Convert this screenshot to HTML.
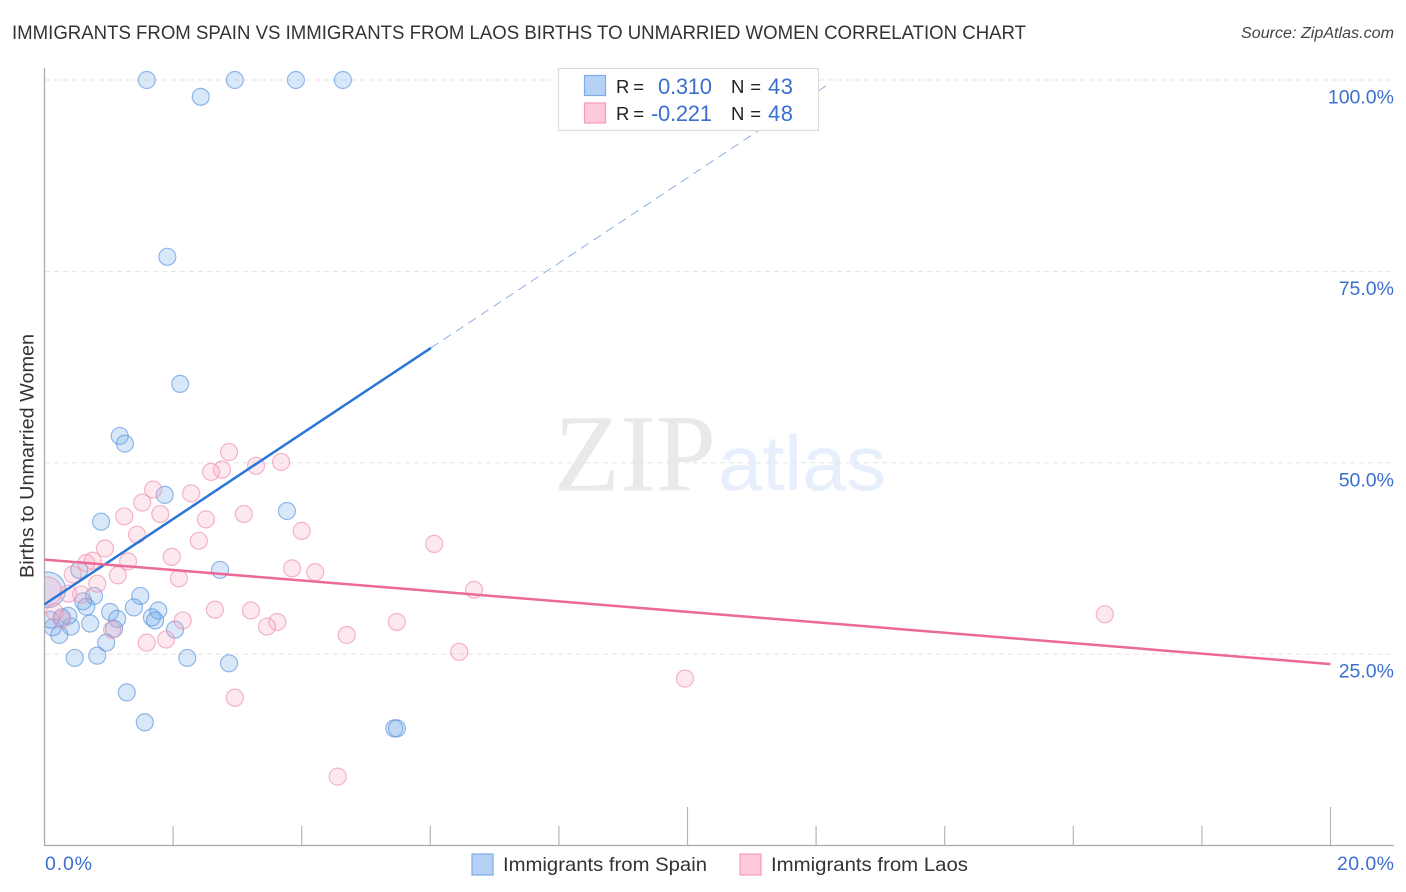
<!DOCTYPE html>
<html lang="en">
<head>
<meta charset="utf-8">
<title>Immigrants from Spain vs Immigrants from Laos Births to Unmarried Women Correlation Chart</title>
<style>
html,body{margin:0;padding:0;background:#fff;}
svg{display:block;font-family:"Liberation Sans",sans-serif;}
</style>
</head>
<body>
<svg id="chart" width="1406" height="892" viewBox="0 0 1406 892" xmlns="http://www.w3.org/2000/svg">
  <defs>
    <clipPath id="plot-clip"><rect x="45" y="60" width="1349" height="786"/></clipPath>
  </defs>
  <rect width="1406" height="892" fill="#fff"/>
  <text x="12" y="39" font-size="19.5" fill="#333" textLength="1014" lengthAdjust="spacingAndGlyphs">IMMIGRANTS FROM SPAIN VS IMMIGRANTS FROM LAOS BIRTHS TO UNMARRIED WOMEN CORRELATION CHART</text>
  <text x="1394" y="38" font-size="15.5" font-style="italic" fill="#444" text-anchor="end" textLength="153" lengthAdjust="spacingAndGlyphs">Source: ZipAtlas.com</text>
  <g>
    <text x="554" y="490.5" font-family="'Liberation Serif',serif" font-size="110" fill="#e9e9e9" textLength="162" lengthAdjust="spacingAndGlyphs">ZIP</text>
    <text x="718" y="490" font-size="78" fill="#e6effb" textLength="168" lengthAdjust="spacingAndGlyphs">atlas</text>
  </g>
  <g id="grid"></g>
  <g id="axes"></g>
  <g id="marks" clip-path="url(#plot-clip)"></g>
  <g id="trends"></g>
  <g>
    <rect x="558.5" y="68.5" width="260" height="62" fill="#fff" fill-opacity="0.88" stroke="#dcdcdc" stroke-width="1.2"/>
    <rect x="584.5" y="75.5" width="21" height="20" fill="#b5d2f6" stroke="#7fabe6" stroke-width="1.2"/>
    <rect x="584.5" y="103" width="21" height="20" fill="#ffc9da" stroke="#f29db8" stroke-width="1.2"/>
    <text x="616" y="93" font-size="18.5" fill="#222" textLength="28">R =</text>
    <text x="712" y="94" font-size="22" fill="#3b70cf" text-anchor="end" textLength="54">0.310</text>
    <text x="731" y="93" font-size="18.5" fill="#222" textLength="30">N =</text>
    <text x="768" y="94" font-size="22" fill="#3b70cf" textLength="25">43</text>
    <text x="616" y="120" font-size="18.5" fill="#222" textLength="28">R =</text>
    <text x="712" y="121" font-size="22" fill="#3b70cf" text-anchor="end" textLength="61">-0.221</text>
    <text x="731" y="120" font-size="18.5" fill="#222" textLength="30">N =</text>
    <text x="768" y="121" font-size="22" fill="#3b70cf" textLength="25">48</text>
  </g>
  <text transform="translate(33.5 456) rotate(-90)" font-size="19.5" fill="#333" text-anchor="middle" textLength="244" lengthAdjust="spacingAndGlyphs">Births to Unmarried Women</text>
  <g>
    <g>
      <rect x="472" y="854" width="21" height="21" fill="#b5d2f6" stroke="#7fabe6" stroke-width="1.2"/>
      <text x="503" y="871" font-size="19.5" fill="#333" textLength="204" lengthAdjust="spacingAndGlyphs">Immigrants from Spain</text>
    </g>
    <g>
      <rect x="740" y="854" width="21" height="21" fill="#ffc9da" stroke="#f29db8" stroke-width="1.2"/>
      <text x="771" y="871" font-size="19.5" fill="#333" textLength="197" lengthAdjust="spacingAndGlyphs">Immigrants from Laos</text>
    </g>
  </g>
</svg>
<script>
// Data (percent values)
const spainX = [1.59,2.96,3.91,4.64,2.43,1.91,2.11,1.17,1.25,1.87,3.77,0.88,0.54,2.73,1.49,0.77,0.60,0.65,1.02,1.39,1.77,1.13,1.67,1.72,0.71,1.08,2.03,0.96,0.47,0.82,2.22,2.87,1.28,1.56,5.44,5.48,0.41,0.37,0.23,0.13,0.27,0.09,0.05];
const spainY = [100,100,100,100,97.8,76.9,60.3,53.5,52.5,45.8,43.7,42.3,36.0,36.0,32.6,32.6,31.9,31.2,30.5,31.1,30.7,29.6,29.8,29.4,29.0,28.3,28.2,26.5,24.5,24.8,24.5,23.8,20.0,16.1,15.3,15.3,28.6,30.0,27.5,28.5,29.8,29.5,33.4];
const spainWeight = [1,1,1,1,1,1,1,1,1,1,1,1,1,1,1,1,1,1,1,1,1,1,1,1,1,1,1,1,1,1,1,1,1,1,1,1,1,1,1,1,1,1,2.1];
const laosX = [2.87,3.68,3.29,2.76,2.59,1.69,2.28,1.52,1.80,1.24,3.10,2.51,4.00,1.44,2.40,0.94,1.98,0.65,0.75,1.30,3.85,4.21,0.44,1.14,2.09,0.82,0.57,0.37,2.65,3.21,2.15,3.62,3.46,1.05,1.89,1.59,2.96,4.70,5.48,6.06,6.68,6.45,9.96,16.49,4.56,0.04,0.16,0.27];
const laosY = [51.4,50.1,49.6,49.1,48.8,46.5,46.0,44.8,43.3,43.0,43.3,42.6,41.1,40.6,39.8,38.8,37.7,36.9,37.2,37.1,36.2,35.7,35.4,35.3,34.9,34.2,32.8,32.9,30.8,30.7,29.4,29.2,28.6,28.2,26.9,26.5,19.3,27.5,29.2,39.4,33.4,25.3,21.8,30.2,9.0,33.2,30.5,29.5];
const laosWeight = [1,1,1,1,1,1,1,1,1,1,1,1,1,1,1,1,1,1,1,1,1,1,1,1,1,1,1,1,1,1,1,1,1,1,1,1,1,1,1,1,1,1,1,1,1,1.7,1,1];
const spainTrendX = [0, 6.01, 12.22];
const spainTrendY = [31.5, 65.0, 99.6];
const laosTrendX = [0, 20];
const laosTrendY = [37.35, 23.7];
const yTicks = [100, 75, 50, 25];
const yTickLabels = ['100.0%','75.0%','50.0%','25.0%'];
const xTicks = [2, 4, 6, 8, 10, 12, 14, 16, 18, 20];
const xTickTall = [0, 0, 0, 0, 1, 0, 0, 0, 0, 1];
const xEndLabels = ['0.0%','20.0%'];

const NS = 'http://www.w3.org/2000/svg';
const xPos = v => 44.5 + v * 64.3;
const yPos = v => 845.5 - v * 7.655;
const make = (tag, attrs, parent) => {
  const el = document.createElementNS(NS, tag);
  for (const k in attrs) el.setAttribute(k, attrs[k]);
  parent.appendChild(el);
  return el;
};

const grid = document.getElementById('grid');
const axes = document.getElementById('axes');
const marks = document.getElementById('marks');
const trends = document.getElementById('trends');

yTicks.forEach((t, i) => {
  const line = make('line', {x1: 45, x2: 1394, y1: yPos(t), y2: yPos(t), stroke: '#e3e3e3', 'stroke-width': 1, 'stroke-dasharray': '5 4'}, grid);
  
  
  const label = make('text', {x: 1394, y: yPos(t) + 23.5, 'font-size': 19.5, fill: '#3b70cf', 'text-anchor': 'end'}, axes);
  label.textContent = yTickLabels[i];
  
  
});

const yAxis = make('line', {x1: 44.5, x2: 44.5, y1: 68, y2: 846, stroke: '#aaa', 'stroke-width': 1.3}, axes);


const xAxis = make('line', {x1: 44, x2: 1394, y1: 845.5, y2: 845.5, stroke: '#aaa', 'stroke-width': 1.3}, axes);



xTicks.forEach((t, i) => {
  const tick = make('line', {x1: xPos(t), x2: xPos(t), y1: xTickTall[i] ? 807 : 826, y2: 845.5, stroke: '#b5b5b5', 'stroke-width': 1.2}, axes);
  
  
});

const xStart = make('text', {x: 45, y: 870, 'font-size': 19.5, fill: '#3b70cf', textLength: 47}, axes);
xStart.textContent = xEndLabels[0];


const xEnd = make('text', {x: 1394, y: 870, 'font-size': 19.5, fill: '#3b70cf', 'text-anchor': 'end', textLength: 57}, axes);
xEnd.textContent = xEndLabels[1];



spainX.forEach((v, i) => {
  const c = make('circle', {cx: xPos(v), cy: yPos(spainY[i]), r: 8.5 * spainWeight[i], fill: '#6ea6e8', 'fill-opacity': 0.26, stroke: '#5c93dd', 'stroke-opacity': 0.65, 'stroke-width': 1.2}, marks);
  
  
});
laosX.forEach((v, i) => {
  const c = make('circle', {cx: xPos(v), cy: yPos(laosY[i]), r: 8.5 * laosWeight[i], fill: '#fba6c0', 'fill-opacity': 0.26, stroke: '#ee8fae', 'stroke-opacity': 0.65, 'stroke-width': 1.2}, marks);
  
  
});

const blueSolid = make('line', {x1: xPos(spainTrendX[0]), y1: yPos(spainTrendY[0]), x2: xPos(spainTrendX[1]), y2: yPos(spainTrendY[1]), stroke: '#2a75d6', 'stroke-width': 2.5}, trends);


const blueDash = make('line', {x1: xPos(spainTrendX[1]), y1: yPos(spainTrendY[1]), x2: xPos(spainTrendX[2]), y2: yPos(spainTrendY[2]), stroke: '#7fa8e0', 'stroke-width': 0.9, 'stroke-dasharray': '9 6'}, trends);


const pinkLine = make('line', {x1: xPos(laosTrendX[0]), y1: yPos(laosTrendY[0]), x2: xPos(laosTrendX[1]), y2: yPos(laosTrendY[1]), stroke: '#ec6a97', 'stroke-width': 2.5}, trends);


</script>
</body>
</html>
